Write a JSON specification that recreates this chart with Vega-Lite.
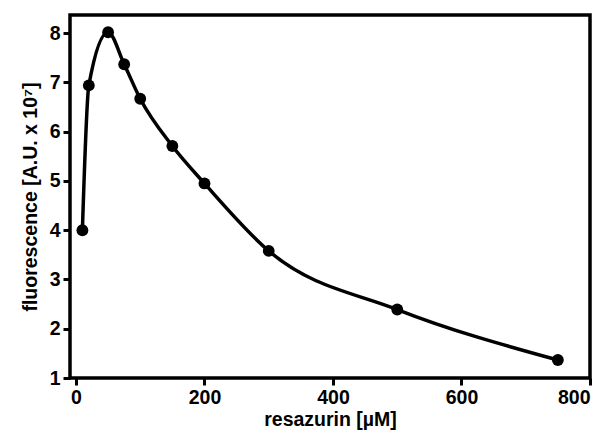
{
  "$schema": "https://vega.github.io/schema/vega-lite/v6.json",
  "width": 520,
  "height": 363,
  "autosize": {"type": "none"},
  "padding": {"left": 70, "top": 15, "right": 20, "bottom": 60},
  "background": "white",
  "data": {
    "values": [
      {"c": 10, "f": 4.0},
      {"c": 20, "f": 6.94},
      {"c": 50, "f": 8.02},
      {"c": 75, "f": 7.37},
      {"c": 100, "f": 6.67},
      {"c": 150, "f": 5.71},
      {"c": 200, "f": 4.95},
      {"c": 300, "f": 3.58},
      {"c": 500, "f": 2.39},
      {"c": 750, "f": 1.365}
    ]
  },
  "encoding": {
    "x": {
      "field": "c",
      "type": "quantitative",
      "scale": {"domain": [-9.3, 800], "nice": false, "zero": false},
      "axis": {"values": [0, 200, 400, 600, 800], "title": "resazurin [µM]"}
    },
    "y": {
      "field": "f",
      "type": "quantitative",
      "scale": {"domain": [1, 8.37], "nice": false, "zero": false},
      "axis": {"values": [1, 2, 3, 4, 5, 6, 7, 8], "title": "fluorescence [A.U. x 10⁷]"}
    }
  },
  "layer": [
    {"mark": {"type": "line", "interpolate": "monotone", "color": "black", "strokeWidth": 3.5}},
    {"mark": {"type": "point", "filled": true, "shape": "circle", "color": "black", "opacity": 1, "size": 140}}
  ],
  "config": {
    "view": {"stroke": "black", "strokeWidth": 3.5},
    "axis": {
      "domain": false,
      "grid": false,
      "ticks": true,
      "tickColor": "black",
      "tickWidth": 3,
      "tickSize": 7,
      "labelFont": "Liberation Sans",
      "labelFontWeight": "bold",
      "labelFontSize": 19.5,
      "labelColor": "black",
      "labelPadding": 3,
      "titleFont": "Liberation Sans",
      "titleFontWeight": "bold",
      "titleFontSize": 19.5,
      "titleColor": "black"
    },
    "axisX": {"titlePadding": 4},
    "axisY": {"titlePadding": 9}
  }
}
